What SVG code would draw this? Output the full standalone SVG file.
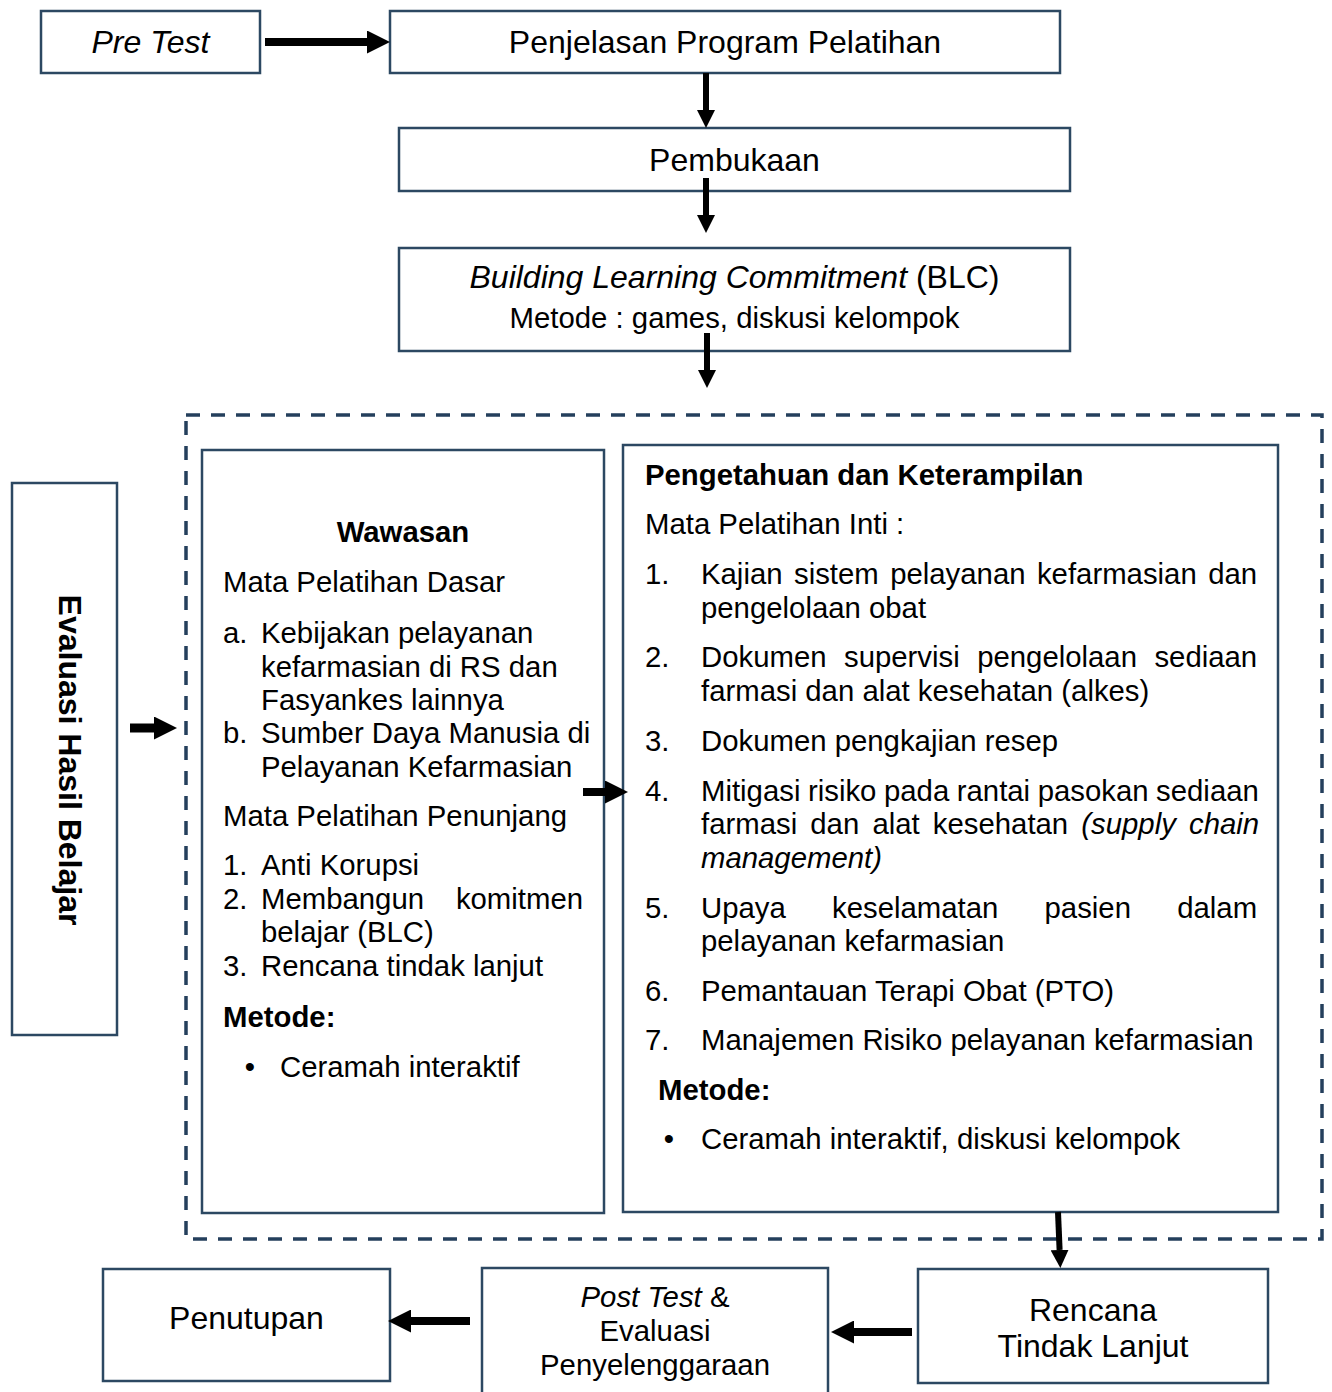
<svg xmlns="http://www.w3.org/2000/svg" width="1332" height="1392" viewBox="0 0 1332 1392">
<defs>
<style>
.box{fill:#fff;stroke:#2c4862;stroke-width:2.5}
.dash{fill:none;stroke:#243f5c;stroke-width:3.5;stroke-dasharray:14 11}
text{font-family:"Liberation Sans",Arial,sans-serif;fill:#000}
.t32{font-size:32px}
.t29{font-size:29.33px}
.c{text-anchor:middle}
.b{font-weight:bold}
.i{font-style:italic}
.ar{stroke:#000;fill:none}
</style>
<marker id="ah" markerUnits="userSpaceOnUse" markerWidth="23" markerHeight="23" refX="0" refY="11.5" orient="auto" viewBox="0 0 23 23"><path d="M0,0 L23,11.5 L0,23 z" fill="#000"/></marker>
<marker id="av" markerUnits="userSpaceOnUse" markerWidth="18" markerHeight="18" refX="0" refY="9" orient="auto" viewBox="0 0 18 18"><path d="M0,0 L18,9 L0,18 z" fill="#000"/></marker>
</defs>
<rect width="1332" height="1392" fill="#fff"/>

<g id="group-frame">
<rect class="dash" x="186" y="415" width="1136" height="824"/>
</g>

<g id="pretest">
<rect class="box" x="41" y="11" width="219" height="62"/>
<text class="t32 c i" x="150.5" y="53">Pre Test</text>
</g>

<g id="penjelasan">
<rect class="box" x="390" y="11" width="670" height="62"/>
<text class="t32 c" x="725" y="53">Penjelasan Program Pelatihan</text>
</g>

<g id="pembukaan">
<rect class="box" x="399" y="128" width="671" height="63"/>
<text class="t32 c" x="734.5" y="171">Pembukaan</text>
</g>

<g id="blc">
<rect class="box" x="399" y="248" width="671" height="103"/>
<text class="t32 c" x="734.5" y="288"><tspan class="i">Building Learning Commitment</tspan> (BLC)</text>
<text class="t29 c" x="734.5" y="328">Metode : games, diskusi kelompok</text>
</g>

<g id="evaluasi">
<rect class="box" x="12" y="483" width="105" height="552"/>
<text class="t32 c b" transform="translate(59,760) rotate(90)" x="0" y="0">Evaluasi Hasil Belajar</text>
</g>

<g id="wawasan">
<rect class="box" x="202" y="450" width="402" height="763"/>
<text class="t29 c b" x="403" y="542">Wawasan</text>
<text class="t29" x="223" y="592">Mata Pelatihan Dasar</text>
<text class="t29" x="223" y="643">a.</text>
<text class="t29" x="261" y="643">Kebijakan pelayanan</text>
<text class="t29" x="261" y="676.5">kefarmasian di RS dan</text>
<text class="t29" x="261" y="710">Fasyankes lainnya</text>
<text class="t29" x="223" y="743">b.</text>
<text class="t29" x="261" y="743">Sumber Daya Manusia di</text>
<text class="t29" x="261" y="777">Pelayanan Kefarmasian</text>
<text class="t29" x="223" y="826">Mata Pelatihan Penunjang</text>
<text class="t29" x="223" y="875">1.</text>
<text class="t29" x="261" y="875">Anti Korupsi</text>
<text class="t29" x="223" y="908.5">2.</text>
<text class="t29" x="261" y="908.5">Membangun</text>
<text class="t29" x="583" y="908.5" text-anchor="end">komitmen</text>
<text class="t29" x="261" y="942">belajar (BLC)</text>
<text class="t29" x="223" y="976">3.</text>
<text class="t29" x="261" y="976">Rencana tindak lanjut</text>
<text class="t29 b" x="223" y="1027">Metode:</text>
<text class="t29" x="250" y="1077" text-anchor="middle">•</text>
<text class="t29" x="280" y="1077">Ceramah interaktif</text>
</g>

<g id="pengetahuan">
<rect class="box" x="623" y="445" width="655" height="767"/>
<text class="t29 b" x="645" y="485">Pengetahuan dan Keterampilan</text>
<text class="t29" x="645" y="534">Mata Pelatihan Inti :</text>
<text class="t29" x="645" y="584">1.</text>
<text class="t29" x="701" y="584" word-spacing="3.3">Kajian sistem pelayanan kefarmasian dan</text>
<text class="t29" x="701" y="617.7">pengelolaan obat</text>
<text class="t29" x="645" y="667">2.</text>
<text class="t29" x="701" y="667" word-spacing="9.3">Dokumen supervisi pengelolaan sediaan</text>
<text class="t29" x="701" y="700.7">farmasi dan alat kesehatan (alkes)</text>
<text class="t29" x="645" y="750.5">3.</text>
<text class="t29" x="701" y="750.5">Dokumen pengkajian resep</text>
<text class="t29" x="645" y="800.5">4.</text>
<text class="t29" x="701" y="800.5" word-spacing="-0.6">Mitigasi risiko pada rantai pasokan sediaan</text>
<text class="t29" x="701" y="834.2" word-spacing="5">farmasi dan alat kesehatan <tspan class="i">(supply chain</tspan></text>
<text class="t29 i" x="701" y="868">management)</text>
<text class="t29" x="645" y="917.5">5.</text>
<text class="t29" x="701" y="917.5" word-spacing="38.1">Upaya keselamatan pasien dalam</text>
<text class="t29" x="701" y="951.2">pelayanan kefarmasian</text>
<text class="t29" x="645" y="1000.7">6.</text>
<text class="t29" x="701" y="1000.7">Pemantauan Terapi Obat (PTO)</text>
<text class="t29" x="645" y="1050.2">7.</text>
<text class="t29" x="701" y="1050.2">Manajemen Risiko pelayanan kefarmasian</text>
<text class="t29 b" x="658" y="1100">Metode:</text>
<text class="t29" x="669" y="1149" text-anchor="middle">•</text>
<text class="t29" x="701" y="1149">Ceramah interaktif, diskusi kelompok</text>
</g>

<g id="rencana">
<rect class="box" x="918" y="1269" width="350" height="114"/>
<text class="t32 c" x="1093" y="1321">Rencana</text>
<text class="t32 c" x="1093" y="1357">Tindak Lanjut</text>
</g>

<g id="posttest">
<rect class="box" x="482" y="1268" width="346" height="140"/>
<text class="t29 c" x="655" y="1307"><tspan class="i">Post Test</tspan> &amp;</text>
<text class="t29 c" x="655" y="1341">Evaluasi</text>
<text class="t29 c" x="655" y="1375">Penyelenggaraan</text>
</g>

<g id="penutupan">
<rect class="box" x="103" y="1269" width="287" height="112"/>
<text class="t32 c" x="246.5" y="1329">Penutupan</text>
</g>

<g id="connectors">
<line class="ar" x1="265" y1="42" x2="367" y2="42" stroke-width="8" marker-end="url(#ah)"/>
<line class="ar" x1="706" y1="73" x2="706" y2="110" stroke-width="6" marker-end="url(#av)"/>
<line class="ar" x1="706" y1="178" x2="706" y2="215" stroke-width="6" marker-end="url(#av)"/>
<line class="ar" x1="707" y1="333" x2="707" y2="370" stroke-width="6" marker-end="url(#av)"/>
<line class="ar" x1="130" y1="728" x2="154" y2="728" stroke-width="9" marker-end="url(#ah)"/>
<line class="ar" x1="583" y1="792" x2="605" y2="792" stroke-width="8" marker-end="url(#ah)"/>
<line class="ar" x1="1058" y1="1212" x2="1059.6" y2="1250" stroke-width="6" marker-end="url(#av)"/>
<line class="ar" x1="912" y1="1332" x2="854" y2="1332" stroke-width="8" marker-end="url(#ah)"/>
<line class="ar" x1="470" y1="1321" x2="411" y2="1321" stroke-width="8" marker-end="url(#ah)"/>
</g>
</svg>
